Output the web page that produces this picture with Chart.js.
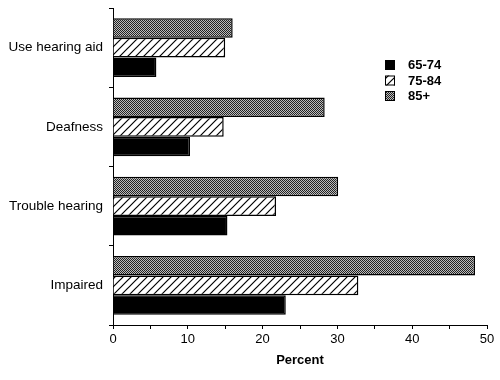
<!DOCTYPE html>
<html>
<head>
<meta charset="utf-8">
<script src="https://cdn.jsdelivr.net/npm/chart.js@4/dist/chart.umd.min.js"></script>
<style>
  html, body { margin: 0; padding: 0; background: #fff; }
  #wrap { width: 500px; height: 380px; }
</style>
</head>
<body>
<div id="wrap"><canvas id="chart" width="500" height="380"></canvas></div>
<script>
const categories = ["Use hearing aid", "Deafness", "Trouble hearing", "Impaired"];
const age6574 = [5.8, 10.3, 15.3, 23.1];
const age7584 = [15.0, 14.8, 21.8, 32.8];
const age85 = [16.0, 28.3, 30.1, 48.4];
const xTicks = [0, 10, 20, 30, 40, 50];

// fill patterns
const stipple = (() => {
  const c = document.createElement("canvas");
  c.width = 2; c.height = 2;
  const g = c.getContext("2d");
  g.fillStyle = "#bcbcbc";
  g.fillRect(0, 0, 2, 2);
  g.fillStyle = "#222";
  g.fillRect(0, 0, 1, 1);
  g.fillRect(1, 1, 1, 1);
  return g.createPattern(c, "repeat");
})();

const hatch = (() => {
  const s = 8;
  const c = document.createElement("canvas");
  c.width = s; c.height = s;
  const g = c.getContext("2d");
  g.fillStyle = "#fff";
  g.fillRect(0, 0, s, s);
  g.strokeStyle = "#000";
  g.lineWidth = 1.2;
  g.beginPath();
  g.moveTo(-1, s + 1); g.lineTo(s + 1, -1);
  g.moveTo(-1, 1); g.lineTo(1, -1);
  g.moveTo(s - 1, s + 1); g.lineTo(s + 1, s - 1);
  g.stroke();
  return g.createPattern(c, "repeat");
})();

const font = "'Liberation Sans', Arial, Helvetica, sans-serif";

const boxLegend = {
  id: "boxLegend",
  afterDraw(chart) {
    const ctx = chart.ctx;
    const items = [2, 1, 0].map((i) => chart.data.datasets[i]);
    ctx.save();
    items.forEach((ds, k) => {
      const cy = 65 + k * 15.5;
      ctx.fillStyle = ds.backgroundColor;
      ctx.fillRect(385, cy - 5, 10, 10);
      ctx.strokeStyle = "#000";
      ctx.lineWidth = 1;
      ctx.strokeRect(385.5, cy - 4.5, 9, 9);
      ctx.fillStyle = "#000";
      ctx.font = "bold 13px " + font;
      ctx.textBaseline = "middle";
      ctx.fillText(ds.label, 408, cy + 0.5);
    });
    ctx.restore();
  },
};

new Chart(document.getElementById("chart"), {
  type: "bar",
  data: {
    labels: categories,
    datasets: [
      { label: "85+", data: age85, backgroundColor: stipple },
      { label: "75-84", data: age7584, backgroundColor: hatch },
      { label: "65-74", data: age6574, backgroundColor: "#000" },
    ],
  },
  options: {
    indexAxis: "y",
    responsive: false,
    animation: false,
    layout: { padding: { top: 8, right: 13, left: 0, bottom: 0 } },
    datasets: {
      bar: {
        borderColor: "#000",
        borderWidth: 1.5,
        categoryPercentage: 0.74,
        barPercentage: 1.0,
      },
    },
    plugins: { legend: { display: false }, tooltip: { enabled: false } },
    scales: {
      x: {
        min: 0,
        max: 50,
        afterFit: (scale) => { scale.height = 55; },
        afterBuildTicks: (scale) => {
          const t = [];
          for (let v = 0; v <= 50; v += 5) t.push({ value: v });
          scale.ticks = t;
        },
        ticks: {
          color: "#000",
          padding: 3,
          maxRotation: 0,
          autoSkip: false,
          font: { family: font, size: 13 },
          callback: (v) => (xTicks.includes(v) ? String(v) : ""),
        },
        grid: { drawOnChartArea: false, color: "#000", tickLength: 4 },
        border: { color: "#000", width: 1 },
        title: {
          display: true,
          text: "Percent",
          color: "#000",
          padding: 12,
          font: { family: font, size: 13, weight: "bold" },
        },
      },
      y: {
        afterFit: (scale) => {
          scale.width = 113;
          scale.paddingTop = 0;
          scale.paddingBottom = 0;
        },
        ticks: {
          color: "#000",
          padding: 6,
          font: { family: font, size: 13.5 },
        },
        grid: { drawOnChartArea: false, offset: true, color: "#000", tickLength: 4 },
        border: { color: "#000", width: 1 },
      },
    },
  },
  plugins: [boxLegend],
});
</script>
</body>
</html>
